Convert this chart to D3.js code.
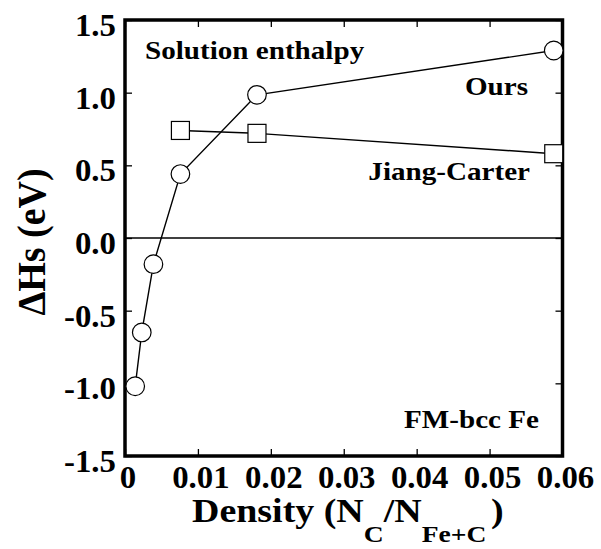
<!DOCTYPE html>
<html>
<head>
<meta charset="utf-8">
<script src="https://cdn.jsdelivr.net/npm/d3@7/dist/d3.min.js"></script>
<style>
  html, body { margin: 0; padding: 0; background: #fff; }
  svg text { font-family: "Liberation Serif", "Times New Roman", serif; font-weight: bold; fill: #000; }
</style>
</head>
<body>
<svg id="chart" width="601" height="549"></svg>
<script>
// ---- data ----
const xTicks = [0, 0.01, 0.02, 0.03, 0.04, 0.05, 0.06];
const xTickLabels = ["0", "0.01", "0.02", "0.03", "0.04", "0.05", "0.06"];
const yTicks = [-1.5, -1.0, -0.5, 0.0, 0.5, 1.0, 1.5];
const yTickLabels = ["-1.5", "-1.0", "-0.5", "0.0", "0.5", "1.0", "1.5"];

const oursX = [0.0014, 0.0023, 0.0039, 0.0076, 0.0181, 0.0588];
const oursY = [-1.02, -0.65, -0.18, 0.44, 0.985, 1.29];
const jcX = [0.0076, 0.0181, 0.0588];
const jcY = [0.74, 0.72, 0.58];

// ---- layout ----
const L = 125, R = 562.5, T = 20, B = 456;
const svg = d3.select("#chart");
const x = d3.scaleLinear().domain([0, 0.06]).range([L, R]);
const y = d3.scaleLinear().domain([-1.5, 1.5]).range([B, T]);

function stext(g, px, py, str, size, sx, anchor) {
  return g.append("text")
    .attr("transform", `translate(${px},${py}) scale(${sx},1)`)
    .attr("text-anchor", anchor || "start")
    .style("font-size", size + "px")
    .text(str);
}

// zero line
svg.append("line").attr("x1", L).attr("x2", R).attr("y1", y(0)).attr("y2", y(0))
  .attr("stroke", "#000").attr("stroke-width", 1.4);

// ticks (inward) on all four sides
const tl = 7;
const axB = d3.axisBottom(x).tickValues(xTicks).tickSize(tl).tickFormat("");
const axT = d3.axisTop(x).tickValues(xTicks).tickSize(tl).tickFormat("");
const axL = d3.axisLeft(y).tickValues(yTicks).tickSize(tl).tickFormat("");
const axR = d3.axisRight(y).tickValues(yTicks).tickSize(tl).tickFormat("");
function styleAx(g) {
  g.select(".domain").remove();
  g.selectAll(".tick line").attr("stroke", "#000").attr("stroke-width", 1.3);
}
svg.append("g").attr("transform", `translate(0,${B - tl})`).call(axB).call(styleAx);
svg.append("g").attr("transform", `translate(0,${T + tl})`).call(axT).call(styleAx);
svg.append("g").attr("transform", `translate(${L + tl},0)`).call(axL).call(styleAx);
svg.append("g").attr("transform", `translate(${R - tl},0)`).call(axR).call(styleAx);

// frame
svg.append("rect").attr("x", L).attr("y", T).attr("width", R - L).attr("height", B - T)
  .attr("fill", "none").attr("stroke", "#000").attr("stroke-width", 3.5);

// tick labels
const lab = svg.append("g");
xTicks.forEach((v, i) => stext(lab, x(v) + 3, 488, xTickLabels[i], 31, 1.06, "middle"));
yTicks.forEach((v, i) => stext(lab, 116, y(v) + 16, yTickLabels[i], 31, 1.06, "end"));

// lines
const line = d3.line().x(d => x(d[0])).y(d => y(d[1]));
const ours = oursX.map((v, i) => [v, oursY[i]]);
const jc = jcX.map((v, i) => [v, jcY[i]]);
svg.append("path").attr("d", line(ours)).attr("fill", "none").attr("stroke", "#000").attr("stroke-width", 1.4);
svg.append("path").attr("d", line(jc)).attr("fill", "none").attr("stroke", "#000").attr("stroke-width", 1.4);

// markers
svg.append("g").selectAll("circle").data(ours).join("circle")
  .attr("cx", d => x(d[0])).attr("cy", d => y(d[1])).attr("r", 9.3)
  .attr("fill", "#fff").attr("stroke", "#000").attr("stroke-width", 1.2);
const s = 18;
svg.append("g").selectAll("rect").data(jc).join("rect")
  .attr("x", d => x(d[0]) - s / 2).attr("y", d => y(d[1]) - s / 2)
  .attr("width", s).attr("height", s)
  .attr("fill", "#fff").attr("stroke", "#000").attr("stroke-width", 1.2);

// annotations
const ann = svg.append("g");
stext(ann, 145, 59, "Solution enthalpy", 26, 1.12, "start");
stext(ann, 528, 95, "Ours", 26, 1.12, "end");
stext(ann, 530, 180, "Jiang-Carter", 26, 1.12, "end");
stext(ann, 539, 428, "FM-bcc Fe", 26, 1.12, "end");

// x axis title with subscripts
const xt = svg.append("text")
  .attr("transform", `translate(192,522) scale(1.15,1)`)
  .style("font-size", "33px");
xt.append("tspan").text("Density (N");
xt.append("tspan").attr("dy", 20).style("font-size", "24px").text("C");
xt.append("tspan").attr("dy", -20).text("/N");
xt.append("tspan").attr("dy", 20).style("font-size", "24px").text("Fe+C");
xt.append("tspan").attr("dy", -20).attr("dx", 4).text(")");

// y axis title
svg.append("text")
  .attr("transform", `translate(45,242) rotate(-90) scale(0.95,1)`)
  .attr("text-anchor", "middle")
  .style("font-size", "40px")
  .text("\u0394Hs (eV)");
</script>
</body>
</html>
